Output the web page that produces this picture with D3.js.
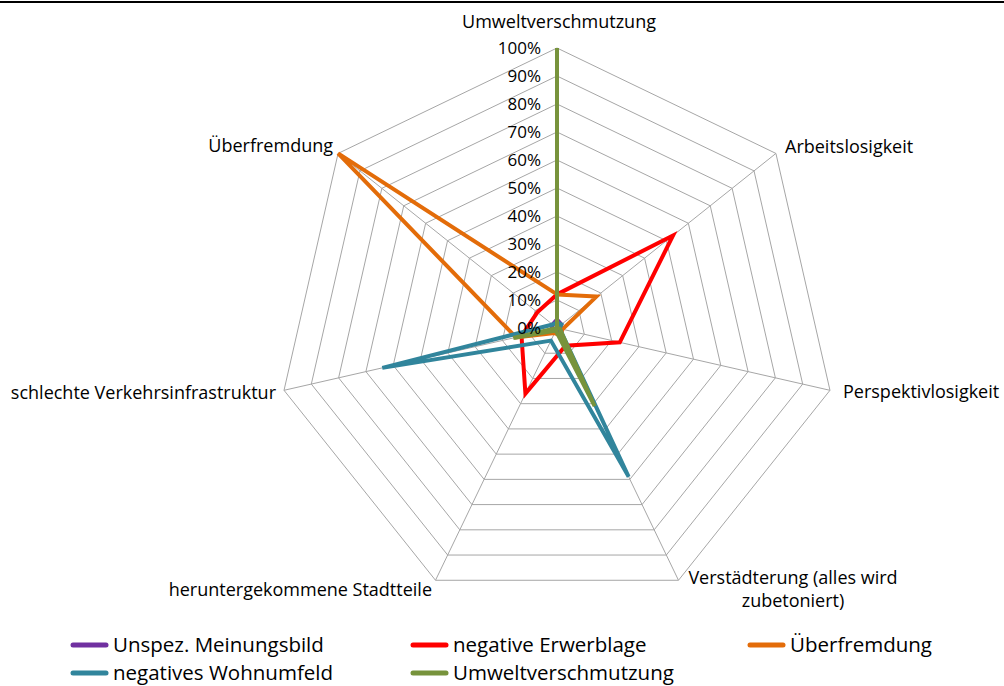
<!DOCTYPE html>
<html>
<head>
<meta charset="utf-8">
<script src="https://cdn.jsdelivr.net/npm/d3@7"></script>
<style>
  body { margin: 0; background: #fff; }
  text { font-family: "Open Sans", sans-serif; fill: #000; }
</style>
</head>
<body>
<script>
// axes clockwise from top
const axes = ["Umweltverschmutzung", "Arbeitslosigkeit", "Perspektivlosigkeit",
  "Verstädterung (alles wird zubetoniert)", "heruntergekommene Stadtteile",
  "schlechte Verkehrsinfrastruktur", "Überfremdung"]
const seriesNames = ["Unspez. Meinungsbild", "negative Erwerblage", "Überfremdung",
  "negatives Wohnumfeld", "Umweltverschmutzung"]
const unspez = [0.03, 0.02, 0.01, 0.01, 0.01, 0.02, 0.02]
const erwerb = [0.12, 0.53, 0.23, 0.07, 0.26, 0.13, 0.09]
const fremd = [0.12, 0.18, 0.02, 0.03, 0.02, 0.15, 1.00]
const wohn = [0.02, 0.02, 0.01, 0.59, 0.05, 0.64, 0.02]
const umwelt = [1.00, 0.00, 0.01, 0.31, 0.01, 0.16, 0.00]
const ticks = [0, 0.1, 0.2, 0.3, 0.4, 0.5, 0.6, 0.7, 0.8, 0.9, 1]

const colors = ["#7030a0", "#ff0000", "#e36c09", "#31859c", "#77933c"]
const allSeries = [unspez, erwerb, fremd, wohn, umwelt]

const width = 1004, height = 686
const cx = 557, cy = 328, R = 280

const svg = d3.select("body").append("svg")
  .attr("width", width).attr("height", height)

// top rule
svg.append("line").attr("x1", 0).attr("x2", width).attr("y1", 2).attr("y2", 2)
  .attr("stroke", "#000").attr("stroke-width", 2)

const r = d3.scaleLinear().domain([0, 1]).range([0, R])
const angle = d3.scalePoint().domain(axes).range([0, 2 * Math.PI * 6 / 7])

const g = svg.append("g").attr("transform", "translate(" + cx + "," + cy + ")")

const pt = (a, v) => [Math.sin(angle(a)) * r(v), -Math.cos(angle(a)) * r(v)]

// grid polygons
g.selectAll(".ring")
  .data(ticks.slice(1))
  .enter().append("polygon")
  .attr("class", "ring")
  .attr("points", t => axes.map(a => pt(a, t).join(",")).join(" "))
  .attr("fill", "none").attr("stroke", "#a6a6a6").attr("stroke-width", 1)

// spokes
g.selectAll(".spoke")
  .data(axes)
  .enter().append("line")
  .attr("class", "spoke")
  .attr("x1", 0).attr("y1", 0)
  .attr("x2", a => pt(a, 1)[0]).attr("y2", a => pt(a, 1)[1])
  .attr("stroke", "#a6a6a6").attr("stroke-width", 1)

// series
const radial = d3.lineRadial()
  .angle((d, i) => angle(axes[i]))
  .radius(d => r(d))
  .curve(d3.curveLinearClosed)

g.selectAll(".series")
  .data(allSeries)
  .enter().append("path")
  .attr("class", "series")
  .attr("d", d => radial(d))
  .attr("fill", "none")
  .attr("stroke", (d, i) => colors[i])
  .attr("stroke-width", 4)
  .attr("stroke-linejoin", "miter")

// tick labels
g.selectAll(".tick")
  .data(ticks)
  .enter().append("text")
  .attr("class", "tick")
  .attr("x", -16)
  .attr("y", t => -r(t) + 6)
  .attr("text-anchor", "end")
  .style("font-size", "17px")
  .text(t => d3.format(".0%")(t))

// axis labels
const labelPos = [
  { x: 559, y: 28, anchor: "middle", lines: ["Umweltverschmutzung"] },
  { x: 785, y: 153, anchor: "start", lines: ["Arbeitslosigkeit"] },
  { x: 843, y: 398, anchor: "start", lines: ["Perspektivlosigkeit"] },
  { x: 793, y: 584, anchor: "middle", lines: ["Verstädterung (alles wird", "zubetoniert)"] },
  { x: 432, y: 596, anchor: "end", lines: ["heruntergekommene Stadtteile"] },
  { x: 276, y: 399, anchor: "end", lines: ["schlechte Verkehrsinfrastruktur"] },
  { x: 333, y: 152, anchor: "end", lines: ["Überfremdung"] }
]
labelPos.forEach(p => {
  const t = svg.append("text")
    .attr("x", p.x).attr("y", p.y)
    .attr("text-anchor", p.anchor)
    .style("font-size", "18px")
  p.lines.forEach((l, i) => {
    t.append("tspan").attr("x", p.x).attr("dy", i ? 23 : 0).text(l)
  })
})

// legend
const legX = [73, 413, 750], legY = [645, 673]
const legend = svg.append("g").attr("class", "legend")
seriesNames.forEach((n, i) => {
  const x = legX[i % 3], y = legY[Math.floor(i / 3)]
  legend.append("line")
    .attr("x1", x).attr("x2", x + 33).attr("y1", y).attr("y2", y)
    .attr("stroke", colors[i]).attr("stroke-width", 5)
    .attr("stroke-linecap", "round")
  legend.append("text")
    .attr("x", x + 40).attr("y", y + 7)
    .style("font-size", "20.5px")
    .text(n)
})
</script>
</body>
</html>
